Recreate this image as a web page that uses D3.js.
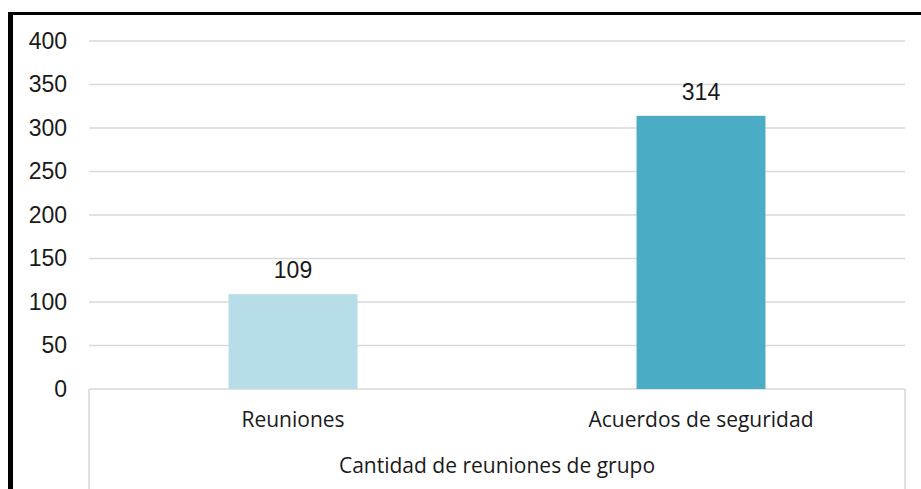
<!DOCTYPE html>
<html>
<head>
<meta charset="utf-8">
<script src="https://cdn.jsdelivr.net/npm/d3@7"></script>
<style>
  body { margin: 0; background: #fff; }
  svg { display: block; }
</style>
</head>
<body>
<div id="chart"></div>
<script>
const categories = ['Reuniones', 'Acuerdos de seguridad'];
const values = [109, 314];
const barColors = ['#b7dde8', '#4bacc6'];
const yTicks = [0, 50, 100, 150, 200, 250, 300, 350, 400];
const groupLabel = 'Cantidad de reuniones de grupo';

const W = 921, H = 489;
const margin = { left: 89, right: 16, top: 41, bottom: 100 };
const width = W - margin.left - margin.right;
const height = H - margin.top - margin.bottom;

const svg = d3.select('#chart').append('svg')
  .attr('width', W)
  .attr('height', H);

// black frame (top + left)
svg.append('rect').attr('x', 8).attr('y', 12).attr('width', W - 8).attr('height', 3).attr('fill', '#000');
svg.append('rect').attr('x', 8).attr('y', 12).attr('width', 5).attr('height', H - 12).attr('fill', '#000');

const g = svg.append('g').attr('transform', 'translate(' + margin.left + ',' + margin.top + ')');

const x = d3.scaleBand().domain(categories).range([0, width]).paddingInner(0).paddingOuter(0);
const y = d3.scaleLinear().domain([0, 400]).range([height, 0]);

// gridlines
g.append('g')
  .selectAll('line')
  .data(yTicks)
  .join('line')
  .attr('x1', 0)
  .attr('x2', width)
  .attr('y1', d => y(d))
  .attr('y2', d => y(d))
  .attr('stroke', '#d9d9d9')
  .attr('stroke-width', 1.5);

// y axis labels
const yAxis = g.append('g')
  .call(d3.axisLeft(y).tickValues(yTicks).tickSize(0).tickPadding(22));
yAxis.select('.domain').remove();
yAxis.selectAll('text')
  .attr('font-family', 'Arial, "Liberation Sans", sans-serif')
  .attr('font-size', '23px')
  .attr('fill', '#1a1a1a');

// bars
const bw = x.bandwidth() * 0.316;
g.selectAll('.bar')
  .data(values)
  .join('rect')
  .attr('class', 'bar')
  .attr('x', (d, i) => x(categories[i]) + x.bandwidth() / 2 - bw / 2)
  .attr('y', d => y(d))
  .attr('width', bw)
  .attr('height', d => height - y(d))
  .attr('fill', (d, i) => barColors[i]);

// value labels
g.selectAll('.val')
  .data(values)
  .join('text')
  .attr('class', 'val')
  .attr('x', (d, i) => x(categories[i]) + x.bandwidth() / 2)
  .attr('y', d => y(d) - 16)
  .attr('text-anchor', 'middle')
  .attr('font-family', 'Arial, "Liberation Sans", sans-serif')
  .attr('font-size', '23px')
  .attr('fill', '#1a1a1a')
  .text(d => d);

// category axis box
const axisG = g.append('g').attr('transform', 'translate(0,' + height + ')');
axisG.append('line').attr('x1', 0).attr('x2', 0).attr('y1', 0).attr('y2', H - margin.top - height)
  .attr('stroke', '#d9d9d9').attr('stroke-width', 1.5);
axisG.append('line').attr('x1', width).attr('x2', width).attr('y1', 0).attr('y2', H - margin.top - height)
  .attr('stroke', '#d9d9d9').attr('stroke-width', 1.5);

axisG.selectAll('.cat')
  .data(categories)
  .join('text')
  .attr('class', 'cat')
  .attr('x', d => x(d) + x.bandwidth() / 2)
  .attr('y', 38)
  .attr('text-anchor', 'middle')
  .attr('font-family', '"Open Sans", Lato, sans-serif')
  .attr('font-size', '21px')
  .attr('fill', '#1a1a1a')
  .text(d => d);

axisG.append('text')
  .attr('x', width / 2)
  .attr('y', 84)
  .attr('text-anchor', 'middle')
  .attr('font-family', '"Open Sans", Lato, sans-serif')
  .attr('font-size', '21px')
  .attr('fill', '#1a1a1a')
  .text(groupLabel);
</script>
</body>
</html>
